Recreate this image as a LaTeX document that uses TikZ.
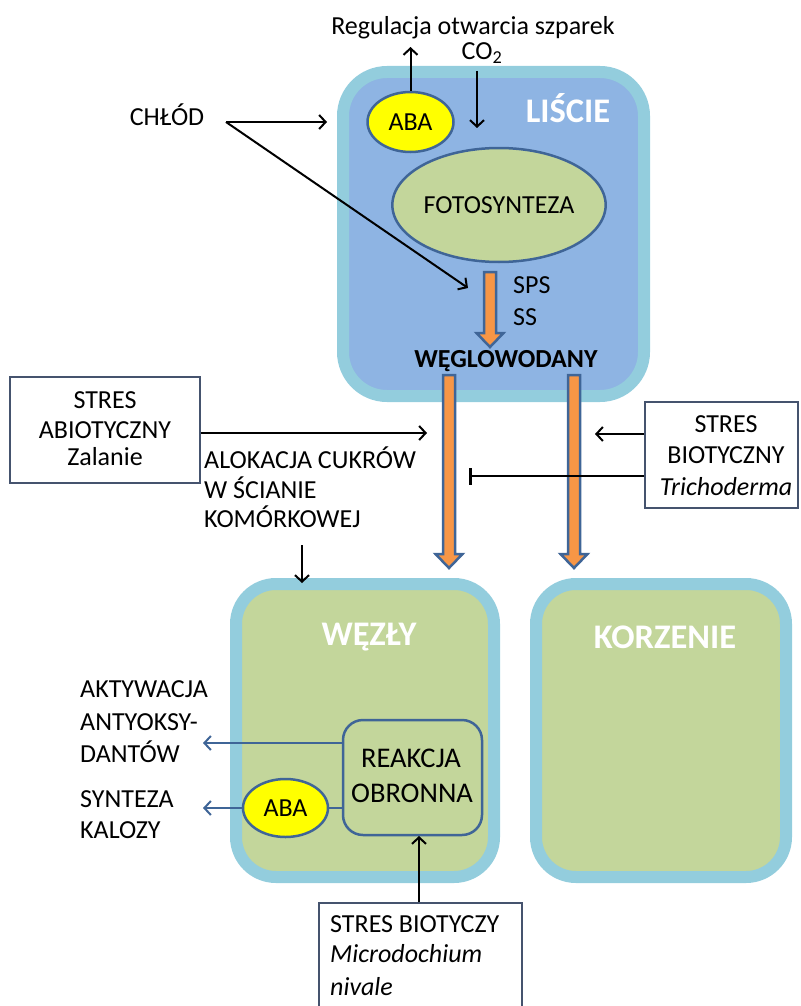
\documentclass[tikz,border=0pt]{standalone}
\usepackage{fontspec}
\setmainfont{Carlito}
\usetikzlibrary{arrows.meta,shapes.geometric}
\definecolor{bordlb}{HTML}{93CDDD}
\definecolor{leafblue}{HTML}{8EB4E3}
\definecolor{grn}{HTML}{C3D69B}
\definecolor{edgeblue}{HTML}{3F6597}
\definecolor{orng}{HTML}{F79646}
\definecolor{ylw}{HTML}{FFFF00}
\definecolor{boxedge}{HTML}{45536E}
\newcommand\myfatarrow[3]{%
  \draw[fat] (#1-6,#2) -- (#1+6,#2) -- (#1+6,#3-14) -- (#1+13.5,#3-14) -- (#1,#3)
    -- (#1-13.5,#3-14) -- (#1-6,#3-14) -- cycle;}
\begin{document}
\begin{tikzpicture}[x=1pt,y=-1pt,
  txt/.style={font=\fontsize{26}{31}\selectfont, inner sep=0, anchor=base},
  txtl/.style={txt, anchor=base west},
  title/.style={font=\fontsize{34.5}{40}\selectfont\bfseries, text=white, inner sep=0, anchor=base},
  organ/.style={draw=bordlb, line width=12pt, rounded corners=44pt, inner sep=0},
  blob/.style={ellipse, draw=edgeblue, line width=2.5pt, inner sep=0, font=\fontsize{26}{31}\selectfont},
  stressbox/.style={draw=boxedge, line width=1.3pt, fill=white, inner sep=0},
  arr/.style={-{Straight Barb[length=6.5pt,width=14pt,line width=2pt]}, line width=2pt},
  barr/.style={arr, draw=edgeblue},
  fat/.style={fill=orng, draw=edgeblue, line width=2.5pt, line join=miter},
  tbar/.style={-{Bar[width=17pt,line width=2.5pt]}, line width=2pt}
]
\useasboundingbox (0,0) rectangle (800,1006);

% organ boxes
\node[organ, fill=leafblue, minimum width=301pt, minimum height=324pt] (lisc) at (493.5,234) {};
\node[organ, fill=grn, rounded corners=40pt, minimum width=258pt, minimum height=293pt] (wez) at (365,730.5) {};
\node[organ, fill=grn, rounded corners=40pt, minimum width=250pt, minimum height=293pt] (kor) at (661,730.5) {};

\node[title] (tl) at (568,123) {LIŚCIE};
\node[title] (tw) at (369,645) {WĘZŁY};
\node[title] (tk) at (665,648) {KORZENIE};

% leaf content
\node[blob, fill=ylw, minimum width=86pt, minimum height=60pt] (aba1) at (410.5,122) {ABA};
\node[blob, fill=grn, minimum width=212pt, minimum height=114pt] (foto) at (499,205) {FOTOSYNTEZA};

\node[txt] (reg) at (473,35) {Regulacja otwarcia szparek};
\node[txt] (co2) at (482,60) {CO\textsubscript{2}};
\coordinate (regtip) at (410.5,47);
\draw[arr] (aba1.north) -- (regtip);
\coordinate (co2s) at (477,71);
\coordinate (co2e) at (477,128);
\draw[arr] (co2s) -- (co2e);

\node[txt] (chl) at (167,126) {CHŁÓD};
\coordinate (chlsrc) at (226,122);
\coordinate (chlA) at (327,122);
\coordinate (chlB) at (468,288);

% fat arrows
\myfatarrow{490}{272}{347}
\myfatarrow{449}{375}{568}
\myfatarrow{574}{375}{568}

\draw[arr] (chlsrc) -- (chlA);
\draw[arr] (chlsrc) -- (chlB);

\node[txtl] (sps) at (513,293) {SPS};
\node[txtl] (ss) at (513,325) {SS};
\node[txt, font=\fontsize{26}{31}\selectfont\bfseries] (wegl) at (506,367) {WĘGLOWODANY};

% abiotic stress
\node[stressbox, minimum width=190pt, minimum height=106pt] (abio) at (105,430) {};
\node[txt] (ab1) at (105,408) {STRES};
\node[txt] (ab2) at (105,438) {ABIOTYCZNY};
\node[txt] (ab3) at (105,465) {Zalanie};
\coordinate (abtip) at (427,433);
\draw[arr] (abio.east |- abtip) -- (abtip);

\node[txtl] (al1) at (204,468) {ALOKACJA CUKRÓW};
\node[txtl] (al2) at (204,498) {W ŚCIANIE};
\node[txtl] (al3) at (204,527) {KOMÓRKOWEJ};
\coordinate (als) at (302,545);
\coordinate (ale) at (302,583);
\draw[arr] (als) -- (ale);

% biotic stress Trichoderma
\node[stressbox, minimum width=153pt, minimum height=106pt] (bio) at (721.5,455) {};
\node[txt] (bi1) at (726,432) {STRES};
\node[txt] (bi2) at (726,463) {BIOTYCZNY};
\node[txt] (bi3) at (726,495) {\itshape Trichoderma};
\coordinate (bitip) at (595,434);
\draw[arr] (bio.west |- bitip) -- (bitip);
\coordinate (tbend) at (469,476);
\draw[tbar] (bio.west |- tbend) -- (tbend);

% nodes content
\node[draw=edgeblue, line width=2.5pt, fill=grn, rounded corners=20pt, minimum width=139pt, minimum height=115pt, inner sep=0] (reak) at (412.5,777.5) {};
\node[txt, font=\fontsize{28.5}{33}\selectfont] (re1) at (411,767) {REAKCJA};
\node[txt, font=\fontsize{28.5}{33}\selectfont] (re2) at (412,802) {OBRONNA};
\node[blob, fill=ylw, minimum width=85pt, minimum height=58pt] (aba2) at (285.5,808) {ABA};
\draw[edgeblue, line width=2.5pt] (aba2.east) -- (aba2.east -| reak.west);

\coordinate (antp) at (203,743);
\draw[barr] (reak.west |- antp) -- (antp);
\coordinate (kalp) at (203,808);
\draw[barr] (aba2.west) -- (kalp);

\node[txtl] (ak1) at (80,697) {AKTYWACJA};
\node[txtl] (ak2) at (80,730) {ANTYOKSY-};
\node[txtl] (ak3) at (80,762) {DANTÓW};
\node[txtl] (sy1) at (80,807) {SYNTEZA};
\node[txtl] (sy2) at (80,838) {KALOZY};

% biotic stress Microdochium
\node[stressbox, minimum width=203pt, minimum height=112pt] (mic) at (420.5,959) {};
\node[txtl] (mi1) at (330,932) {STRES BIOTYCZY};
\node[txtl] (mi2) at (330,962) {\itshape Microdochium};
\node[txtl] (mi3) at (330,995) {\itshape nivale};
\coordinate (uptip) at (419,836);
\draw[arr] (uptip |- mic.north) -- (uptip);
\end{tikzpicture}
\end{document}
